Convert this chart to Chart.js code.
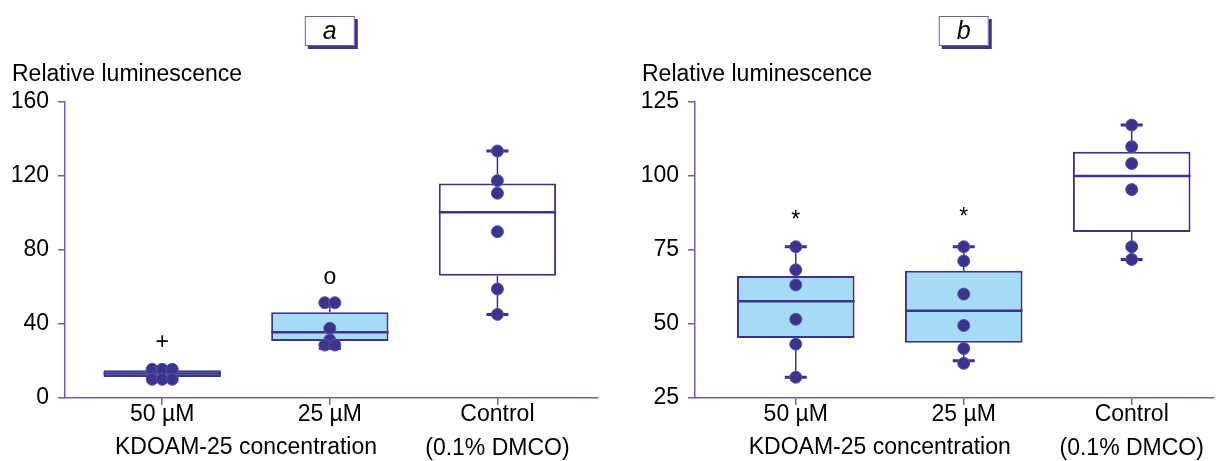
<!DOCTYPE html>
<html>
<head>
<meta charset="utf-8">
<script src="https://cdn.jsdelivr.net/npm/chart.js@4.4.1/dist/chart.umd.min.js"></script>
<style>
  body { margin: 0; background: #fff; }
  .panel { position: absolute; top: 0; height: 461px; }
  #pa { left: 0; width: 605px; }
  #pb { left: 630px; width: 591px; }
</style>
</head>
<body>
<div class="panel" id="pa"><canvas id="chartA"></canvas></div>
<div class="panel" id="pb"><canvas id="chartB"></canvas></div>
<script>
// категории и подписи
const categories = ['50 µM', '25 µM', ['Control', '(0.1% DMCO)']];
const xTitle = 'KDOAM-25 concentration';
const yTitle = 'Relative luminescence';

// панель a
const ticksA = [0, 40, 80, 120, 160];
const pointsA = [
  [15.5, 15.5, 15.5, 10.1, 10.1, 10.1],
  [51.5, 51.5, 37.7, 31.4, 28.6, 28.6],
  [133.5, 117.5, 110.7, 89.9, 58.9, 45.2]
];
const jitterA = [
  [-0.06, 0, 0.06, -0.06, 0, 0.06],
  [-0.03, 0.03, 0, 0, -0.03, 0.03],
  [0, 0, 0, 0, 0, 0]
];
const q1A = [11.3, 30.8, 66.1];
const medA = [13.3, 35.5, 100.4];
const q3A = [15.0, 46.4, 116.0];
const loA = [null, 26.8, 45.2];
const hiA = [null, 51.5, 133.5];
const marksA = ['+', 'o', ''];
const marksAY = [30, 65, null];

// панель b
const ticksB = [25, 50, 75, 100, 125];
const pointsB = [
  [76.1, 68.3, 63.2, 51.6, 43.2, 32.0],
  [76.1, 71.3, 60.1, 49.5, 41.7, 36.7],
  [117.2, 109.9, 104.2, 95.4, 76.1, 71.8]
];
const jitterB = [
  [0, 0, 0, 0, 0, 0],
  [0, 0, 0, 0, 0, 0],
  [0, 0, 0, 0, 0, 0]
];
const q1B = [45.3, 43.7, 81.1];
const medB = [57.7, 54.5, 100.0];
const q3B = [66.2, 68.0, 108.2];
const loB = [32.0, 37.6, 71.8];
const hiB = [76.1, 76.1, 117.2];
const marksB = ['*', '*', ''];
const marksBY = [85, 86, null];

const NAVY = '#3b348f';
const AXIS = '#6a62ad';
const FILLS = ['#a6dbf6', '#a6dbf6', '#ffffff'];
const FONT = "'Liberation Sans', Arial, sans-serif";

const boxExtras = {
  id: 'boxExtras',
  beforeDatasetDraw(chart, args, o) {
    if (args.index !== 0) return;
    const { ctx } = chart;
    const x = chart.scales.x, y = chart.scales.y;
    const bars = chart.getDatasetMeta(1).data;
    ctx.save();
    ctx.strokeStyle = NAVY;
    o.med.forEach((m, i) => {
      const bar = bars[i];
      const cx = x.getPixelForValue(i);
      // усы
      if (o.lo[i] != null) {
        ctx.lineWidth = 1.5;
        ctx.beginPath();
        ctx.moveTo(cx, y.getPixelForValue(o.q3[i]));
        ctx.lineTo(cx, y.getPixelForValue(o.hi[i]));
        ctx.moveTo(cx, y.getPixelForValue(o.q1[i]));
        ctx.lineTo(cx, y.getPixelForValue(o.lo[i]));
        ctx.stroke();
        ctx.lineWidth = 3;
        ctx.beginPath();
        [o.lo[i], o.hi[i]].forEach(v => {
          const py = y.getPixelForValue(v);
          ctx.moveTo(cx - 11, py);
          ctx.lineTo(cx + 11, py);
        });
        ctx.stroke();
      }
      // медиана
      ctx.lineWidth = 2.5;
      const py = y.getPixelForValue(m);
      ctx.beginPath();
      ctx.moveTo(bar.x - bar.width / 2, py);
      ctx.lineTo(bar.x + bar.width / 2, py);
      ctx.stroke();
    });
    ctx.restore();
  },
  afterDraw(chart, args, o) {
    const { ctx, chartArea } = chart;
    const x = chart.scales.x, y = chart.scales.y;
    ctx.save();
    ctx.fillStyle = '#000';
    ctx.font = '23px ' + FONT;
    ctx.textBaseline = 'middle';
    ctx.textAlign = 'left';
    ctx.fillText(yTitle, 12, chartArea.top - 27);
    ctx.textAlign = 'center';
    ctx.fillText(xTitle, (x.getPixelForValue(0) + x.getPixelForValue(1)) / 2, chartArea.bottom + 50);
    o.marks.forEach((t, i) => {
      if (!t) return;
      ctx.fillText(t, x.getPixelForValue(i), y.getPixelForValue(o.marksY[i]));
    });
    // буква панели
    const cx = x.getPixelForValue(1);
    const bw = 50, bh = 30, bx = cx - bw / 2, by = 16;
    ctx.fillStyle = NAVY;
    ctx.fillRect(bx + 3, by + 3, bw, bh);
    ctx.fillStyle = '#fff';
    ctx.fillRect(bx, by, bw, bh);
    ctx.strokeStyle = AXIS;
    ctx.lineWidth = 1;
    ctx.strokeRect(bx + 0.5, by + 0.5, bw - 1, bh - 1);
    ctx.fillStyle = '#000';
    ctx.font = 'italic 25px ' + FONT;
    ctx.fillText(o.letter, cx, by + bh / 2 + 1);
    ctx.restore();
  }
};

function makeChart(id, p) {
  const scatter = [];
  p.points.forEach((vals, i) => vals.forEach((v, k) => scatter.push({ x: i + p.jitter[i][k], y: v })));
  const boxes = p.q1.map((v, i) => ({ x: i, y: [v, p.q3[i]] }));
  return new Chart(document.getElementById(id), {
    data: {
      datasets: [{
        type: 'scatter',
        data: scatter,
        backgroundColor: NAVY,
        borderColor: '#5a53a6',
        borderWidth: 1,
        pointRadius: 6
      }, {
        type: 'bar',
        data: boxes,
        backgroundColor: FILLS,
        borderColor: NAVY,
        borderWidth: 2,
        borderSkipped: false,
        barPercentage: 0.7,
        categoryPercentage: 1
      }]
    },
    options: {
      responsive: true,
      maintainAspectRatio: false,
      animation: false,
      layout: { padding: { left: 10, top: 102, right: p.padRight, bottom: 0 } },
      plugins: {
        legend: { display: false },
        tooltip: { enabled: false },
        boxExtras: p
      },
      scales: {
        x: {
          type: 'linear',
          offset: false,
          min: p.xMin,
          max: p.xMax,
          afterBuildTicks: s => { s.ticks = categories.map((c, i) => ({ value: i })); },
          afterFit: s => { s.height = 63; },
          ticks: {
            callback: v => categories[v],
            color: '#000',
            font: { family: FONT, size: 23, lineHeight: 1.48 },
            padding: -7,
            maxRotation: 0,
            autoSkip: false
          },
          grid: { drawOnChartArea: false, offset: false, tickLength: 7, color: AXIS, lineWidth: 1.5 },
          border: { color: AXIS, width: 1.5 }
        },
        y: {
          min: p.yTicks[0],
          max: p.yTicks[p.yTicks.length - 1],
          afterBuildTicks: s => { s.ticks = p.yTicks.map(v => ({ value: v })); },
          afterFit: s => { s.width = 55; },
          ticks: {
            color: '#000',
            font: { family: FONT, size: 23 },
            padding: 9
          },
          grid: { drawOnChartArea: false, tickLength: 7, color: AXIS, lineWidth: 1.5 },
          border: { color: AXIS, width: 1.5 }
        }
      }
    },
    plugins: [boxExtras]
  });
}

makeChart('chartA', {
  letter: 'a', yTicks: ticksA, points: pointsA, jitter: jitterA,
  q1: q1A, med: medA, q3: q3A, lo: loA, hi: hiA,
  marks: marksA, marksY: marksAY, xMin: -0.58, xMax: 2.6, padRight: 5
});
makeChart('chartB', {
  letter: 'b', yTicks: ticksB, points: pointsB, jitter: jitterB,
  q1: q1B, med: medB, q3: q3B, lo: loB, hi: hiB,
  marks: marksB, marksY: marksBY, xMin: -0.6, xMax: 2.49, padRight: 0
});
</script>
</body>
</html>
